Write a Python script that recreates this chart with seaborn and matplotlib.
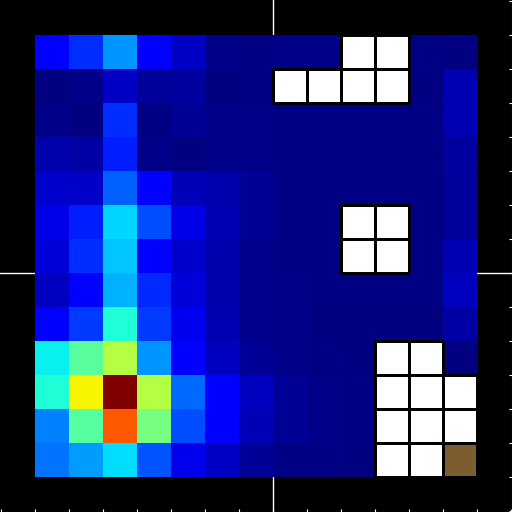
import numpy as np
import pandas as pd
import seaborn as sns
import matplotlib.pyplot as plt
from matplotlib.colors import ListedColormap

nan = np.nan

# cell intensities (row 0 at top), nan = blocked cell
values = [
    [0.12, 0.17, 0.27, 0.11, 0.06, 0.01, 0.005, 0.01, 0.01, nan, nan, 0.005, 0.0],
    [0.0, 0.01, 0.06, 0.025, 0.03, 0.0, 0.005, nan, nan, nan, nan, 0.0, 0.045],
    [0.01, 0.0, 0.17, 0.005, 0.02, 0.01, 0.01, 0.005, 0.005, 0.005, 0.005, 0.005, 0.045],
    [0.04, 0.035, 0.155, 0.01, 0.0, 0.01, 0.01, 0.005, 0.005, 0.005, 0.005, 0.005, 0.03],
    [0.07, 0.065, 0.22, 0.12, 0.05, 0.04, 0.02, 0.005, 0.005, 0.005, 0.005, 0.005, 0.025],
    [0.09, 0.155, 0.335, 0.2, 0.09, 0.045, 0.02, 0.005, 0.005, nan, nan, 0.005, 0.025],
    [0.08, 0.17, 0.32, 0.12, 0.07, 0.04, 0.015, 0.005, 0.005, nan, nan, 0.005, 0.045],
    [0.055, 0.12, 0.30, 0.165, 0.08, 0.04, 0.015, 0.01, 0.005, 0.005, 0.005, 0.005, 0.055],
    [0.12, 0.18, 0.39, 0.18, 0.10, 0.045, 0.015, 0.01, 0.0, 0.0, 0.0, 0.0, 0.035],
    [0.36, 0.46, 0.57, 0.27, 0.12, 0.055, 0.02, 0.01, 0.005, 0.0, nan, nan, 0.0],
    [0.39, 0.65, 1.0, 0.57, 0.23, 0.12, 0.055, 0.02, 0.01, 0.005, nan, nan, nan],
    [0.25, 0.455, 0.815, 0.495, 0.2, 0.12, 0.05, 0.02, 0.01, 0.005, nan, nan, nan],
    [0.24, 0.28, 0.34, 0.21, 0.095, 0.06, 0.02, 0.005, 0.005, 0.0, nan, nan, nan],
]
goal_cell = (12, 12)
goal_color = "#7b5d31"

grid = pd.DataFrame(values)
n_rows, n_cols = grid.shape
blocked = grid.isna()
goal = pd.DataFrame(False, index=grid.index, columns=grid.columns)
goal.iloc[goal_cell] = True
blocked = blocked & ~goal

fig = plt.figure(figsize=(5.12, 5.12), dpi=100, facecolor="black")
ax = fig.add_axes([0, 0, 1, 1])
ax.set_facecolor("black")

sns.heatmap(grid, cmap="jet", vmin=0, vmax=1, cbar=False, ax=ax)


def overlay(cells, color):
    sns.heatmap(cells.astype(float), mask=~cells, cmap=ListedColormap([color]),
                cbar=False, linewidths=0.75, linecolor="black", ax=ax)
    mesh = ax.collections[-1]
    flags = cells.to_numpy().ravel()
    mesh.set_edgecolors([(0, 0, 0, 1) if f else (0, 0, 0, 0) for f in flags])


overlay(blocked, "white")
overlay(goal, goal_color)

ax.axvline(7, color="white", lw=1, zorder=0.5)
ax.axhline(7, color="white", lw=1, zorder=0.5)

pad = 1.03
ax.set_xlim(-pad, n_cols + pad)
ax.set_ylim(n_rows + pad, -pad)
ax.set_xticks(range(-1, n_cols + 2))
ax.set_yticks(range(-1, n_rows + 2))
ax.set_xticklabels([])
ax.set_yticklabels([])
ax.tick_params(axis="x", direction="in", length=2, color="white", bottom=True, top=False)
ax.tick_params(axis="y", direction="in", length=2, color="white", left=False, right=True)
for side in ["top", "left"]:
    ax.spines[side].set_visible(False)
for side in ["bottom", "right"]:
    ax.spines[side].set_visible(True)
    ax.spines[side].set_color("#555555")

fig.savefig("out.png", dpi=100, facecolor="black")
